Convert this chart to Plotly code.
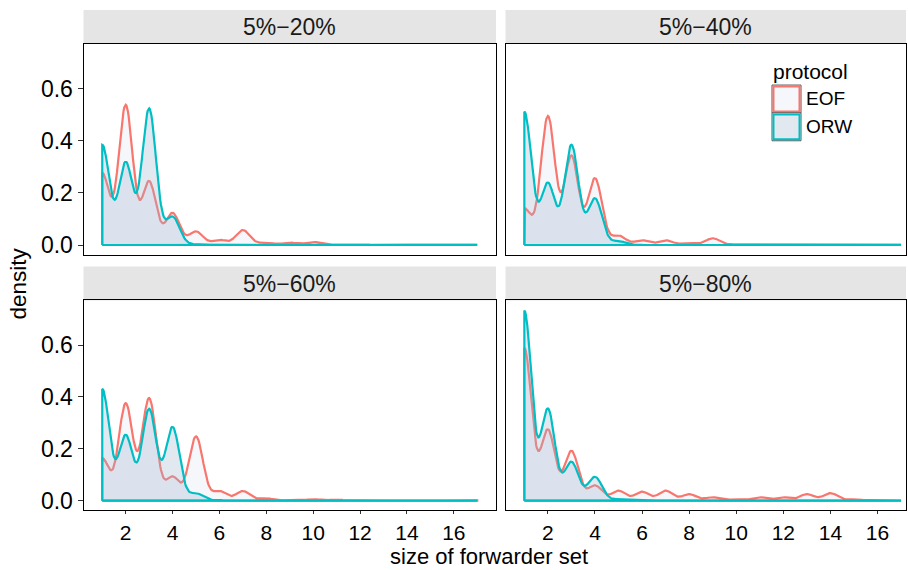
import numpy as np
import plotly.graph_objects as go

# ---------------- data ----------------
sizes = list(range(1, 18))                       # size of forwarder set
panels = ["5%−20%", "5%−40%", "5%−60%", "5%−80%"]
protocols = ["EOF", "ORW"]

# share of observations at each forwarder-set size (1..17)
eof_20 = [0.206, 0.403, 0.183, 0.092, 0.039, 0.015, 0.043, 0.0075, 0.007, 0.009,
          0.0015, 0.0015, 0.0015, 0.0015, 0.0015, 0.0015, 0.0015]
orw_20 = [0.288, 0.238, 0.393, 0.081, 0.002, 0, 0, 0, 0, 0, 0, 0, 0, 0, 0, 0, 0]

eof_40 = [0.104, 0.371, 0.256, 0.192, 0.027, 0.0135, 0.0135, 0.006, 0.0195, 0.002,
          0.001, 0.001, 0.001, 0.001, 0.001, 0.001, 0.001]
orw_40 = [0.384, 0.178, 0.288, 0.134, 0.011, 0, 0, 0, 0, 0, 0, 0, 0, 0, 0, 0, 0]

eof_60 = [0.122, 0.281, 0.296, 0.069, 0.186, 0.028, 0.028, 0.007, 0.0015, 0.0045,
          0.003, 0.0015, 0.001, 0.001, 0.001, 0.001, 0.001]
orw_60 = [0.323, 0.189, 0.265, 0.213, 0.021, 0.0015, 0, 0, 0, 0, 0, 0, 0, 0, 0, 0, 0]

eof_80 = [0.442, 0.205, 0.144, 0.044, 0.029, 0.026, 0.029, 0.019, 0.010, 0.0045,
          0.010, 0.010, 0.019, 0.022, 0.004, 0.002, 0.0015]
orw_80 = [0.550, 0.265, 0.112, 0.069, 0.004, 0, 0, 0, 0, 0, 0, 0, 0, 0, 0, 0, 0]

shares = {
    "5%−20%": {"EOF": eof_20, "ORW": orw_20},
    "5%−40%": {"EOF": eof_40, "ORW": orw_40},
    "5%−60%": {"EOF": eof_60, "ORW": orw_60},
    "5%−80%": {"EOF": eof_80, "ORW": orw_80},
}

y_ticks = [0.0, 0.2, 0.4, 0.6]
y_tick_labels = ["0.0", "0.2", "0.4", "0.6"]
x_ticks = [2, 4, 6, 8, 10, 12, 14, 16]
x_tick_labels = ["2", "4", "6", "8", "10", "12", "14", "16"]

# ---------------- styles ----------------
W, H = 908, 570
line_col = {"EOF": "#F8766D", "ORW": "#00BFC4"}
fill_col = {"EOF": "rgba(220,225,240,0.25)", "ORW": "rgba(159,180,204,0.30)"}
bandwidth = 0.3
FONT = "Liberation Sans, Arial, Helvetica, sans-serif"


def px(x):
    return x / W


def py(y):
    return 1 - y / H


def kde(values, grid, bw):
    """Gaussian kernel density (the stat geom_density applies)."""
    vals = np.asarray(values, dtype=float)
    pos = np.asarray(sizes, dtype=float)
    z = (grid[:, None] - pos[None, :]) / bw
    return (np.exp(-0.5 * z ** 2) * vals[None, :]).sum(axis=1) / (bw * np.sqrt(2 * np.pi))


grid = np.linspace(min(sizes), max(sizes), 512)

# panel boxes in pixels: (left, right) per column, (top, bottom) per row
col_x = [(83.5, 496.0), (505.5, 906.0)]
col_range = [[0.2, 17.8], [0.2, 17.21]]
row_y = [(44.0, 256.0), (302.0, 513.0)]
strip_h = 34.0

fig = go.Figure()
for i, panel in enumerate(panels):
    r, c = divmod(i, 2)
    ax = "" if i == 0 else str(i + 1)
    for prot in protocols:
        d = kde(shares[panel][prot], grid, bandwidth)
        xs = np.concatenate([[grid[0]], grid, [grid[-1], grid[0]]])
        ys = np.concatenate([[0.0], d, [0.0, 0.0]])
        fig.add_trace(go.Scatter(
            x=xs, y=ys, mode="lines", fill="toself",
            fillcolor=fill_col[prot],
            line=dict(color=line_col[prot], width=2.2),
            name=prot, showlegend=False, hoverinfo="skip",
            xaxis="x" + ax, yaxis="y" + ax,
        ))

    x0, x1 = col_x[c]
    y0, y1 = row_y[r]
    bottom = r == 1
    left = c == 0
    fig.update_layout(**{
        "xaxis" + ax: dict(
            domain=[px(x0), px(x1)], anchor="y" + ax, range=col_range[c],
            showgrid=False, zeroline=False, showline=True, mirror=True,
            linecolor="black", linewidth=1,
            tickvals=x_ticks, ticktext=x_tick_labels,
            ticks="outside" if bottom else "", ticklen=3, tickwidth=1,
            tickcolor="#333333", showticklabels=bottom,
            tickfont=dict(size=21, color="black", family=FONT),
        ),
        "yaxis" + ax: dict(
            domain=[py(y1), py(y0)], anchor="x" + ax, range=[-0.037, 0.772],
            showgrid=False, zeroline=False, showline=True, mirror=True,
            linecolor="black", linewidth=1,
            tickvals=y_ticks, ticktext=y_tick_labels,
            ticks="outside" if left else "", ticklen=5, tickwidth=1,
            tickcolor="#333333", showticklabels=left,
            tickfont=dict(size=23, color="black", family=FONT),
        ),
    })
    # strip
    fig.add_shape(type="rect", xref="paper", yref="paper",
                  x0=px(x0), x1=px(x1), y0=py(y0), y1=py(y0 - strip_h),
                  fillcolor="#E5E5E5", line=dict(width=0), layer="below")
    fig.add_annotation(text=panel, xref="paper", yref="paper",
                       x=px((x0 + x1) / 2), y=py(y0 - strip_h / 2),
                       showarrow=False, xanchor="center", yanchor="middle",
                       font=dict(size=23, color="#1a1a1a", family=FONT))

# axis titles
fig.add_annotation(text="size of forwarder set", xref="paper", yref="paper",
                   x=px(489), y=py(559.5), showarrow=False,
                   xanchor="center", yanchor="middle",
                   font=dict(size=22, color="black", family=FONT))
fig.add_annotation(text="density", xref="paper", yref="paper",
                   x=px(18), y=py(285), showarrow=False, textangle=-90,
                   xanchor="center", yanchor="middle",
                   font=dict(size=22.5, color="black", family=FONT))

# legend (drawn by hand, inside the top-right panel)
fig.add_annotation(text="protocol", xref="paper", yref="paper",
                   x=px(771), y=py(72), showarrow=False,
                   xanchor="left", yanchor="middle",
                   font=dict(size=21, color="black", family=FONT))
key_top = [85.5, 113.5]
for prot, kt in zip(protocols, key_top):
    fig.add_shape(type="rect", xref="paper", yref="paper",
                  x0=px(772), x1=px(801), y0=py(kt + 28), y1=py(kt),
                  fillcolor="white", line=dict(color="#555555", width=1))
    fig.add_shape(type="rect", xref="paper", yref="paper",
                  x0=px(773.5), x1=px(799.5), y0=py(kt + 26.5), y1=py(kt + 1.5),
                  fillcolor=fill_col[prot], line=dict(color=line_col[prot], width=2))
    fig.add_annotation(text=prot, xref="paper", yref="paper",
                       x=px(804), y=py(kt + 14), showarrow=False,
                       xanchor="left", yanchor="middle",
                       font=dict(size=19, color="black", family=FONT))

fig.update_layout(
    width=W, height=H, margin=dict(l=0, r=0, t=0, b=0),
    paper_bgcolor="white", plot_bgcolor="white", showlegend=False,
    font=dict(family=FONT),
)

fig.write_html("out.html",
               config={"displayModeBar": False},
               post_script="document.body.style.margin='0';"
                           "document.body.style.overflow='hidden';")
